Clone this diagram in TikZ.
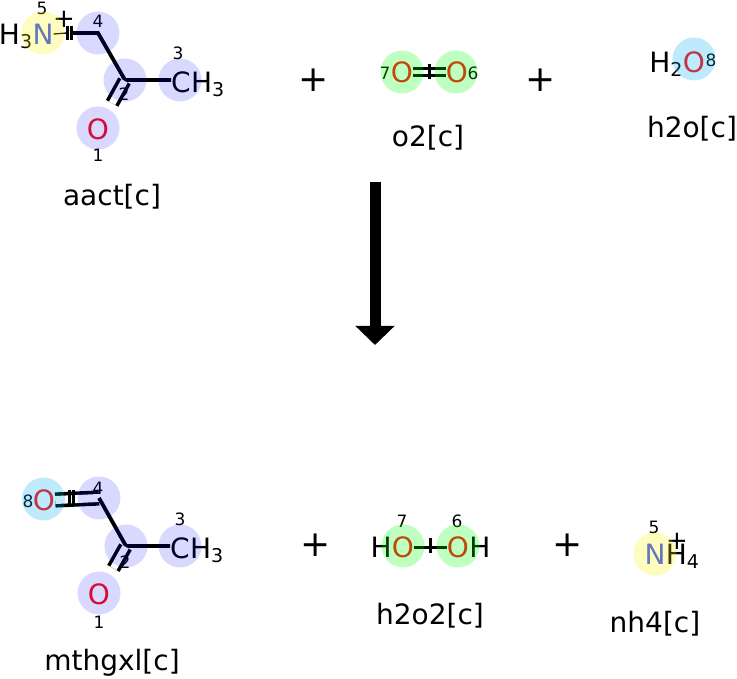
\documentclass[tikz,border=0pt]{standalone}
\usepackage{fontspec}
\setmainfont{DejaVu Sans}
\usetikzlibrary{positioning,arrows.meta}
\definecolor{atomO}{RGB}{255,13,13}
\definecolor{atomN}{RGB}{48,80,248}
\newcommand{\ssub}[1]{\raisebox{-4pt}{\fontsize{19}{19}\selectfont #1}}

\begin{document}
\begin{tikzpicture}[x=1pt,y=-1pt]
\tikzset{atom/.style={inner sep=0pt, font=\fontsize{28}{28}\selectfont},
	num/.style={inner sep=0pt, font=\fontsize{17}{17}\selectfont},
	chg/.style={inner sep=0pt, font=\fontsize{26}{26}\selectfont},
	molname/.style={inner sep=0pt, font=\fontsize{28}{28}\selectfont},
	plus/.style={inner sep=0pt, font=\fontsize{36}{36}\selectfont},
	bond/.style={line width=3.8pt},
	thinbond/.style={line width=1.3pt},
	tickmark/.style={line width=3pt},
	dbond/.style={double, double distance=7pt, line width=3.6pt},
	hlblue/.style={fill=blue, fill opacity=0.15},
	hlgreen/.style={fill=green, fill opacity=0.25},
	hlcyan/.style={fill=cyan, fill opacity=0.25},
	hlyellow/.style={fill=yellow, fill opacity=0.25}}
\useasboundingbox (0,0) rectangle (737,679);

\node[atom, text=atomN] (aN5) at (43,34) {N};
\node[atom, anchor=base east] (aH3) at (aN5.base west) {H\ssub{3}};
\node[num] (aL5) at (42,8) {5};
\node[chg] (aQ) at (64,19) {+};
\coordinate (aC4) at (98,33);
\coordinate (aC2) at (125,80);
\node[atom] (aC3) at (181,82) {C};
\node[atom, anchor=base west] (aH3b) at (aC3.base east) {H\ssub{3}};
\node[atom, text=atomO] (aO1) at (98,129) {O};
\coordinate (aT1) at (67,33);
\coordinate (aT2) at (71,33);
\draw[thinbond] (aN5.east) -- (aT1);
\draw[tickmark] ([yshift=7pt]aT1) -- ([yshift=-7pt]aT1);
\draw[tickmark] ([yshift=7pt]aT2) -- ([yshift=-7pt]aT2);
\draw[bond] (aT2) -- (aC4) -- (aC2) -- (aC2 -| aC3.west);
\draw[dbond, shorten <=1pt, shorten >=17pt] (aC2) -- (aO1);
\node[num] (aL4) at (98,21) {4};
\node[num] (aL2) at (124,94) {2};
\node[num] (aL3) at (178,53) {3};
\node[num] (aL1) at (98,155) {1};
\node[molname] (aact) at (112,197) {aact[c]};

\node[plus] (p1) at (314,80) {+};

\node[atom, text=atomO] (oO7) at (402,72) {O};
\node[atom, text=atomO] (oO6) at (457,72) {O};
\node[num] (oL7) at (385,73) {7};
\node[num] (oL6) at (473,73) {6};
\coordinate (oT) at (429,72);
\draw[dbond, double distance=4.5pt, line width=3pt] (oO7.east) -- (oO6.west);
\draw[tickmark] ([yshift=8pt]oT) -- ([yshift=-7pt]oT);
\node[molname] (o2) at (428,138) {o2[c]};

\node[plus] (p2) at (541,80) {+};

\node[atom, text=atomO] (hO8) at (694,62) {O};
\node[atom, anchor=base east] (hH2) at (hO8.base west) {H\ssub{2}};
\node[num] (hL8) at (711,60) {8};
\node[molname] (h2o) at (692,129) {h2o[c]};

\coordinate (arrtop) at (375,182);
\coordinate (arrbot) at (375,345);
\draw[line width=11pt, -{Triangle[width=38pt, length=19pt]}] (arrtop) -- (arrbot);

\node[atom, text=atomO] (mO8) at (44,500) {O};
\node[num] (mL8) at (28,501) {8};
\coordinate (mC4) at (99,498);
\coordinate (mC2) at (126,546);
\node[atom] (mC3) at (180,548) {C};
\node[atom, anchor=base west] (mH3) at (mC3.base east) {H\ssub{3}};
\node[atom, text=atomO] (mO1) at (99,594) {O};
\coordinate (mT1) at (69,498);
\coordinate (mT2) at (73,498);
\draw[dbond, double distance=8pt] (mO8.east) -- (mC4);
\draw[tickmark] ([yshift=8pt]mT1) -- ([yshift=-8pt]mT1);
\draw[tickmark] ([yshift=8pt]mT2) -- ([yshift=-8pt]mT2);
\draw[bond] (mC4) -- (mC2) -- (mC2 -| mC3.west);
\draw[dbond, shorten <=1pt, shorten >=17pt] (mC2) -- (mO1);
\node[num] (mL4) at (98,488) {4};
\node[num] (mL2) at (125,562) {2};
\node[num] (mL3) at (180,519) {3};
\node[num] (mL1) at (99,622) {1};
\node[molname] (mthgxl) at (112,663) {mthgxl[c]};

\node[plus] (p3) at (316,545) {+};

\node[atom, text=atomO] (pO7) at (403,547) {O};
\node[atom, text=atomO] (pO6) at (458,547) {O};
\node[atom, anchor=east] (pH7) at (pO7.west) {H};
\node[atom, anchor=west] (pH6) at (pO6.east) {H};
\node[num] (pL7) at (402,521) {7};
\node[num] (pL6) at (457,521) {6};
\coordinate (pT) at (430,546);
\draw[bond, line width=3pt] (pO7.east) -- (pO6.west);
\draw[tickmark] ([yshift=8pt]pT) -- ([yshift=-7pt]pT);
\node[molname] (h2o2) at (430,616) {h2o2[c]};

\node[plus] (p4) at (568,545) {+};

\node[atom, text=atomN] (nN5) at (655,554) {N};
\node[atom, anchor=base west] (nH4) at (nN5.base east) {H\ssub{4}};
\node[chg] (nQ) at (677,541) {+};
\node[num] (nL5) at (654,527) {5};
\node[molname] (nh4) at (655,624) {nh4[c]};

\fill[hlblue] (aC4) circle (21.5) (aC2) circle (21.5) (180,80) circle (21.5) (98,128) circle (21.5)
	(mC4) circle (21.5) (mC2) circle (21.5) (180,546) circle (21.5) (99,593) circle (21.5);
\fill[hlyellow] (43,33) circle (21.5) (655,554) circle (21.5);
\fill[hlgreen] (402,72) circle (21.5) (456,72) circle (21.5) (403,546) circle (21.5) (458,546) circle (21.5);
\fill[hlcyan] (694,59) circle (21.5) (43.5,499) circle (21.5);
\end{tikzpicture}
\end{document}
